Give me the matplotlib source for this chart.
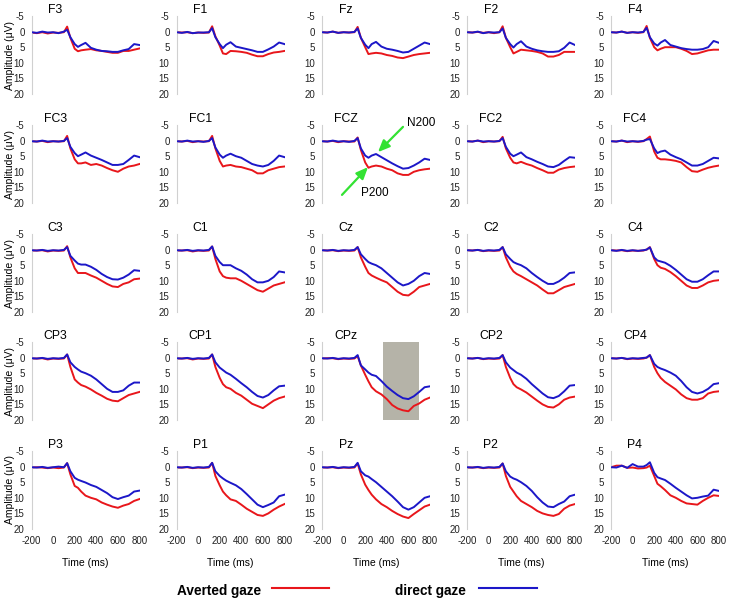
import matplotlib
matplotlib.use("Agg")
import matplotlib.pyplot as plt

plt.rcParams['font.family'] = ['Liberation Sans', 'DejaVu Sans']

# ---------------- data ----------------
time_ms = [-200, -150, -100, -50, 0, 50, 100, 130, 160, 200, 230, 260, 300,
           350, 400, 450, 500, 550, 600, 650, 700, 750, 800]

electrodes = ["F3", "F1", "Fz", "F2", "F4",
              "FC3", "FC1", "FCZ", "FC2", "FC4",
              "C3", "C1", "Cz", "C2", "C4",
              "CP3", "CP1", "CPz", "CP2", "CP4",
              "P3", "P1", "Pz", "P2", "P4"]

F3_averted = [0.3, 0.5, 0.2, 0.6, 0.3, 0.4, 0.2, -1.6, 2.0, 5.5, 6.3, 6.0, 5.8, 5.6, 6.0, 6.2, 6.5, 6.8, 6.8, 6.2, 6.2, 5.8, 5.4]
F3_direct = [0.2, 0.4, 0.0, 0.3, 0.2, 0.5, 0.0, -0.6, 1.8, 4.0, 4.9, 4.3, 3.6, 5.2, 5.8, 6.2, 6.3, 6.5, 6.5, 6.0, 5.6, 4.0, 4.3]
F1_averted = [0.2, 0.3, 0.2, 0.5, 0.3, 0.4, 0.3, -1.7, 1.5, 4.5, 7.0, 7.2, 6.2, 6.3, 6.5, 6.8, 7.4, 7.9, 7.9, 7.2, 6.7, 6.5, 6.2]
F1_direct = [0.2, 0.4, 0.1, 0.5, 0.3, 0.3, 0.2, -1.1, 1.8, 4.0, 5.3, 4.2, 3.4, 4.8, 5.2, 5.6, 6.0, 6.5, 6.5, 5.7, 4.8, 3.5, 4.0]
Fz_averted = [0.2, 0.3, 0.0, 0.4, 0.2, 0.3, 0.2, -1.5, 2.0, 5.0, 7.2, 7.0, 6.8, 7.0, 7.5, 7.8, 8.3, 8.5, 8.0, 7.5, 7.2, 7.0, 6.8]
Fz_direct = [0.2, 0.3, 0.0, 0.4, 0.2, 0.3, 0.1, -1.0, 2.0, 4.2, 5.3, 4.0, 3.3, 4.8, 5.5, 5.8, 6.2, 6.7, 6.5, 5.5, 4.5, 3.5, 4.0]
F2_averted = [0.2, 0.3, 0.1, 0.4, 0.2, 0.5, 0.2, -1.7, 2.0, 5.0, 7.0, 6.5, 5.8, 6.0, 6.2, 6.5, 7.0, 8.0, 8.0, 7.5, 6.5, 6.5, 6.5]
F2_direct = [0.2, 0.3, 0.0, 0.5, 0.2, 0.3, 0.2, -1.0, 2.0, 4.0, 5.1, 4.0, 3.1, 4.8, 5.5, 6.0, 6.3, 6.5, 6.5, 6.3, 5.2, 3.5, 4.3]
F4_averted = [0.2, 0.3, 0.0, 0.4, 0.2, 0.4, 0.2, -1.8, 2.0, 5.0, 6.0, 5.5, 5.0, 5.0, 5.0, 5.5, 6.2, 7.2, 7.0, 6.5, 6.0, 5.8, 5.8]
F4_direct = [0.2, 0.3, 0.0, 0.4, 0.2, 0.3, 0.1, -1.2, 1.8, 3.8, 4.5, 3.5, 2.7, 4.3, 4.8, 5.3, 5.6, 5.8, 5.8, 5.6, 5.0, 3.0, 3.6]

FC3_averted = [0.2, 0.3, 0.1, 0.5, 0.2, 0.3, 0.2, -1.5, 2.5, 6.0, 7.3, 7.3, 7.0, 7.8, 7.5, 8.0, 8.8, 9.5, 10.0, 9.0, 8.3, 8.0, 7.5]
FC3_direct = [0.2, 0.3, 0.0, 0.3, 0.2, 0.3, 0.1, -0.8, 2.0, 4.0, 5.0, 4.5, 3.8, 4.8, 5.5, 6.2, 7.0, 7.8, 7.8, 7.5, 6.2, 4.8, 5.3]
FC1_averted = [0.2, 0.3, 0.1, 0.5, 0.2, 0.3, 0.2, -1.5, 2.5, 6.5, 8.3, 8.0, 7.8, 8.3, 8.5, 9.0, 9.5, 10.5, 10.5, 9.5, 9.0, 8.5, 8.3]
FC1_direct = [0.2, 0.3, 0.0, 0.3, 0.2, 0.4, 0.1, -0.8, 2.2, 4.5, 5.5, 4.8, 4.2, 5.0, 5.5, 6.5, 7.5, 8.0, 8.3, 7.8, 6.5, 4.8, 5.3]
FCZ_averted = [0.2, 0.3, 0.1, 0.5, 0.2, 0.3, 0.3, -1.0, 3.0, 7.0, 8.7, 8.3, 8.0, 8.3, 9.0, 9.5, 10.5, 11.0, 11.0, 10.0, 9.5, 9.2, 9.0]
FCZ_direct = [0.2, 0.3, 0.0, 0.3, 0.2, 0.4, 0.1, -0.8, 2.5, 4.8, 5.5, 4.8, 4.3, 5.3, 6.3, 7.3, 8.2, 9.0, 8.8, 8.0, 7.0, 5.8, 6.2]
FC2_averted = [0.2, 0.3, 0.0, 0.5, 0.2, 0.3, 0.2, -1.2, 2.5, 5.5, 7.0, 7.3, 6.8, 7.5, 8.0, 8.8, 9.5, 10.3, 10.3, 9.3, 8.8, 8.5, 8.3]
FC2_direct = [0.2, 0.3, 0.0, 0.3, 0.2, 0.3, 0.1, -0.8, 2.0, 4.2, 5.0, 4.5, 3.8, 5.3, 6.0, 6.8, 7.5, 8.3, 8.5, 7.8, 6.5, 5.3, 5.5]
FC4_averted = [0.2, 0.3, 0.0, 0.5, 0.2, 0.4, 0.2, -0.5, -1.3, 3.5, 5.5, 6.0, 6.0, 6.2, 6.5, 7.0, 8.5, 9.8, 10.0, 9.3, 8.7, 8.3, 8.0]
FC4_direct = [0.2, 0.3, 0.0, 0.3, 0.2, 0.3, 0.1, -0.3, -0.5, 2.5, 4.0, 3.5, 3.2, 4.5, 5.3, 6.0, 7.0, 8.0, 8.0, 7.5, 6.5, 5.5, 5.7]

C3_averted = [0.3, 0.3, 0.2, 0.6, 0.3, 0.4, 0.3, -1.1, 2.5, 6.0, 7.5, 7.5, 7.5, 8.3, 9.0, 10.0, 11.0, 11.8, 12.0, 11.0, 10.5, 9.5, 9.3]
C3_direct = [0.2, 0.3, 0.1, 0.4, 0.2, 0.3, 0.1, -0.8, 2.0, 3.5, 4.5, 4.8, 4.8, 5.5, 6.5, 7.8, 8.8, 9.5, 9.6, 9.0, 8.0, 6.6, 6.8]
C1_averted = [0.3, 0.3, 0.2, 0.6, 0.3, 0.4, 0.3, -1.0, 3.0, 7.0, 8.5, 9.0, 9.2, 9.2, 10.0, 11.0, 12.0, 13.0, 13.5, 12.5, 11.5, 11.0, 10.5]
C1_direct = [0.2, 0.3, 0.1, 0.4, 0.2, 0.3, 0.1, -1.0, 2.0, 4.0, 5.0, 5.0, 5.0, 6.0, 6.8, 8.0, 9.5, 10.5, 10.5, 10.0, 8.8, 7.0, 7.3]
Cz_averted = [0.2, 0.3, 0.2, 0.5, 0.3, 0.4, 0.3, -0.8, 2.5, 5.5, 7.5, 8.3, 9.0, 9.8, 10.5, 12.0, 13.5, 14.5, 14.7, 13.5, 12.0, 11.5, 11.0]
Cz_direct = [0.2, 0.3, 0.1, 0.4, 0.2, 0.3, 0.1, -0.8, 1.5, 3.0, 4.0, 4.5, 5.0, 6.0, 7.5, 9.0, 10.5, 11.5, 11.0, 10.0, 8.5, 7.5, 7.8]
C2_averted = [0.2, 0.3, 0.1, 0.5, 0.3, 0.4, 0.3, -0.8, 2.5, 5.5, 7.0, 7.8, 8.5, 9.5, 10.5, 11.5, 12.8, 14.0, 14.0, 13.0, 12.0, 11.5, 11.0]
C2_direct = [0.2, 0.3, 0.1, 0.4, 0.2, 0.3, 0.1, -0.8, 1.5, 3.0, 4.0, 4.5, 5.0, 6.0, 7.5, 8.8, 10.0, 11.0, 11.0, 10.2, 9.0, 7.5, 7.3]
C4_averted = [0.2, 0.3, 0.2, 0.5, 0.3, 0.4, 0.3, 0.0, -0.8, 3.0, 5.0, 5.8, 6.2, 7.2, 8.5, 10.0, 11.5, 12.3, 12.3, 11.5, 10.5, 10.0, 9.8]
C4_direct = [0.2, 0.4, 0.1, 0.4, 0.2, 0.4, 0.2, 0.0, -0.7, 2.5, 3.5, 3.8, 4.2, 5.2, 6.5, 8.0, 9.5, 10.3, 10.3, 9.5, 8.2, 7.0, 7.0]

CP3_averted = [0.3, 0.3, 0.2, 0.6, 0.3, 0.4, 0.3, -1.0, 3.0, 7.0, 8.0, 8.8, 9.3, 10.2, 11.3, 12.2, 13.2, 13.8, 14.0, 13.0, 12.0, 11.5, 11.0]
CP3_direct = [0.2, 0.3, 0.1, 0.4, 0.2, 0.3, 0.1, -1.0, 1.5, 3.0, 3.8, 4.5, 5.0, 5.8, 7.0, 8.5, 10.0, 11.0, 11.0, 10.5, 9.0, 8.0, 8.0]
CP1_averted = [0.3, 0.3, 0.2, 0.6, 0.3, 0.4, 0.3, -1.0, 3.0, 6.5, 8.5, 9.5, 10.0, 11.3, 12.2, 13.5, 14.8, 15.5, 16.2, 15.0, 13.8, 13.0, 12.5]
CP1_direct = [0.2, 0.3, 0.1, 0.4, 0.2, 0.3, 0.1, -1.0, 1.5, 3.2, 4.0, 4.8, 5.5, 6.8, 8.2, 9.5, 11.0, 12.3, 12.8, 12.0, 10.5, 9.2, 9.0]
CPz_averted = [0.3, 0.2, 0.2, 0.5, 0.3, 0.4, 0.3, -0.5, 2.5, 5.5, 7.6, 9.5, 10.8, 11.8, 13.3, 15.2, 16.3, 16.9, 17.2, 15.5, 14.7, 13.5, 12.8]
CPz_direct = [0.2, 0.3, 0.1, 0.4, 0.2, 0.3, 0.1, -0.8, 2.5, 3.8, 4.8, 5.5, 5.9, 7.5, 9.3, 10.7, 12.0, 13.0, 13.3, 12.4, 11.0, 9.5, 9.2]
CP2_averted = [0.2, 0.3, 0.1, 0.5, 0.3, 0.4, 0.3, -0.8, 3.0, 6.5, 8.5, 9.5, 10.2, 11.2, 12.5, 13.8, 15.0, 15.8, 16.0, 15.0, 13.5, 12.8, 12.5]
CP2_direct = [0.2, 0.3, 0.1, 0.4, 0.2, 0.3, 0.1, -0.8, 1.5, 3.2, 4.0, 4.8, 5.5, 6.8, 8.5, 10.0, 11.5, 12.7, 13.0, 12.3, 10.8, 9.0, 8.8]
CP4_averted = [0.2, 0.3, 0.1, 0.5, 0.3, 0.4, 0.3, 0.0, -0.8, 3.0, 5.0, 6.5, 7.8, 9.0, 10.2, 11.8, 13.0, 13.5, 13.5, 13.0, 11.5, 11.0, 10.8]
CP4_direct = [0.2, 0.3, 0.1, 0.4, 0.2, 0.3, 0.1, 0.0, -0.8, 2.0, 3.0, 3.5, 4.0, 4.8, 5.8, 7.5, 9.5, 11.0, 11.5, 11.0, 10.0, 8.5, 8.2]

P3_averted = [0.3, 0.2, 0.3, 0.5, 0.3, 0.5, 0.3, -1.1, 2.5, 6.2, 6.8, 8.0, 9.3, 10.0, 10.5, 11.5, 12.2, 12.8, 13.2, 12.5, 12.0, 11.0, 10.4]
P3_direct = [0.2, 0.3, 0.1, 0.4, 0.2, 0.0, 0.2, -1.1, 1.5, 3.6, 4.2, 4.6, 5.1, 5.9, 6.5, 7.5, 8.5, 9.8, 10.4, 9.8, 9.3, 8.0, 7.7]
P1_averted = [0.3, 0.3, 0.2, 0.5, 0.3, 0.4, 0.3, -1.2, 3.0, 6.0, 8.0, 9.2, 10.5, 11.0, 12.2, 13.5, 14.5, 15.5, 15.8, 15.0, 13.8, 12.8, 12.0]
P1_direct = [0.2, 0.3, 0.1, 0.4, 0.2, 0.3, 0.1, -1.2, 1.5, 3.0, 3.8, 4.5, 5.2, 6.0, 7.2, 8.8, 10.5, 12.2, 13.0, 12.3, 11.5, 9.5, 9.0]
Pz_averted = [0.3, 0.3, 0.2, 0.5, 0.3, 0.4, 0.3, -1.0, 2.5, 5.8, 7.5, 9.0, 10.5, 12.0, 13.0, 14.2, 15.2, 16.0, 16.5, 15.2, 14.0, 12.8, 12.2]
Pz_direct = [0.2, 0.3, 0.1, 0.4, 0.2, 0.3, 0.1, -1.2, 1.5, 2.8, 3.2, 4.0, 5.0, 6.5, 8.0, 9.5, 11.2, 13.0, 13.8, 13.0, 11.5, 10.0, 9.5]
P2_averted = [0.3, 0.3, 0.2, 0.5, 0.3, 0.4, 0.3, -1.0, 3.0, 6.5, 8.0, 9.5, 11.0, 12.0, 13.0, 14.2, 15.0, 15.5, 15.8, 15.2, 13.5, 12.5, 12.0]
P2_direct = [0.2, 0.3, 0.1, 0.4, 0.2, 0.3, 0.1, -1.0, 1.5, 3.2, 3.8, 4.2, 5.0, 6.2, 7.8, 9.8, 11.5, 12.8, 13.0, 12.0, 11.2, 9.5, 9.0]
P4_averted = [0.2, -0.3, -0.3, 0.4, 0.3, 0.6, 0.5, 0.3, -0.3, 3.0, 5.5, 6.3, 7.5, 9.2, 10.0, 11.0, 11.8, 12.0, 12.2, 11.0, 10.0, 9.2, 9.4]
P4_direct = [0.2, 0.3, -0.3, 0.4, -0.8, 0.0, 0.0, -0.5, -1.4, 2.0, 3.4, 3.8, 4.3, 5.5, 6.8, 8.0, 9.2, 10.2, 10.0, 9.6, 9.3, 7.4, 7.8]

y_ticks = [-5, 0, 5, 10, 15, 20]
x_ticks = [-200, 0, 200, 400, 600, 800]
shade_window = [365, 700]          # grey window in CPz panel
legend_labels = ["Averted gaze", "direct gaze"]

averted = [F3_averted, F1_averted, Fz_averted, F2_averted, F4_averted,
           FC3_averted, FC1_averted, FCZ_averted, FC2_averted, FC4_averted,
           C3_averted, C1_averted, Cz_averted, C2_averted, C4_averted,
           CP3_averted, CP1_averted, CPz_averted, CP2_averted, CP4_averted,
           P3_averted, P1_averted, Pz_averted, P2_averted, P4_averted]
direct = [F3_direct, F1_direct, Fz_direct, F2_direct, F4_direct,
          FC3_direct, FC1_direct, FCZ_direct, FC2_direct, FC4_direct,
          C3_direct, C1_direct, Cz_direct, C2_direct, C4_direct,
          CP3_direct, CP1_direct, CPz_direct, CP2_direct, CP4_direct,
          P3_direct, P1_direct, Pz_direct, P2_direct, P4_direct]

# ---------------- layout ----------------
W, H = 732, 604
fig = plt.figure(figsize=(W / 100, H / 100), dpi=100)
col_left = [31.5, 176.5, 322, 467, 611]
row_top = [16, 125, 234, 342, 451]
ax_w, ax_h = 108, 78
RED = '#e8161b'
BLUE = '#1c17c8'
GREEN = '#33e233'

axes = {}
for i, name in enumerate(electrodes):
    r, c = divmod(i, 5)
    ax = fig.add_axes([col_left[c] / W, 1 - (row_top[r] + ax_h) / H, ax_w / W, ax_h / H])
    axes[name] = ax
    if name == "CPz":
        ax.axvspan(shade_window[0], shade_window[1], color='#b5b3a8', zorder=0, lw=0)
    ax.plot(time_ms, averted[i], color=RED, lw=1.4, zorder=2)
    ax.plot(time_ms, direct[i], color=BLUE, lw=1.4, zorder=3)
    ax.set_xlim(-200, 800)
    ax.set_ylim(20, -5)
    ax.set_yticks(y_ticks)
    ax.set_yticklabels([str(v) for v in y_ticks], fontsize=7, color='#222222')
    ax.set_xticks(x_ticks)
    if r == 4:
        ax.set_xticklabels([str(v) for v in x_ticks], fontsize=7, color='#222222')
        ax.text(0.5, -0.44, "Time (ms)", transform=ax.transAxes, ha='center', va='center', fontsize=7.5)
    else:
        ax.set_xticklabels([])
    ax.tick_params(axis='both', length=0, pad=5)
    for s in ['top', 'right', 'bottom']:
        ax.spines[s].set_visible(False)
    ax.spines['left'].set_color('#d0d0d0')
    ax.spines['left'].set_linewidth(0.8)
    ax.patch.set_alpha(0)
    ax.text(0.22, 1.0 + 6 / ax_h, name, transform=ax.transAxes, ha='center', va='center', fontsize=8.8)
    if c == 0:
        fig.text(10 / W, 1 - (row_top[r] + ax_h / 2) / H, "Amplitude (\u03bcV)", rotation=90,
                 ha='center', va='center', fontsize=7.5)

# annotations in FCZ panel
axf = axes["FCZ"]
axf.annotate("", xy=(318, 3.7), xytext=(550, -4.4),
             arrowprops=dict(arrowstyle='-|>,head_length=0.7,head_width=0.3', color=GREEN, lw=1.6,
                             shrinkA=0, shrinkB=0), annotation_clip=False)
axf.text(590, -5.6, "N200", fontsize=8.5, ha='left', va='center', clip_on=False)
axf.annotate("", xy=(226, 8.5), xytext=(-15, 17.4),
             arrowprops=dict(arrowstyle='-|>,head_length=0.7,head_width=0.3', color=GREEN, lw=1.6,
                             shrinkA=0, shrinkB=0), annotation_clip=False)
axf.text(165, 16.8, "P200", fontsize=8.5, ha='left', va='center', clip_on=False)

# legend
fig.text(177 / W, 1 - 591 / H, legend_labels[0], fontsize=9.8, fontweight='bold', ha='left', va='center')
fig.add_artist(plt.Line2D([272 / W, 329 / W], [1 - 588 / H, 1 - 588 / H], color=RED, lw=1.5))
fig.text(395 / W, 1 - 591 / H, legend_labels[1], fontsize=9.8, fontweight='bold', ha='left', va='center')
fig.add_artist(plt.Line2D([479 / W, 537 / W], [1 - 588 / H, 1 - 588 / H], color=BLUE, lw=1.5))

fig.savefig("out.png", dpi=100)
